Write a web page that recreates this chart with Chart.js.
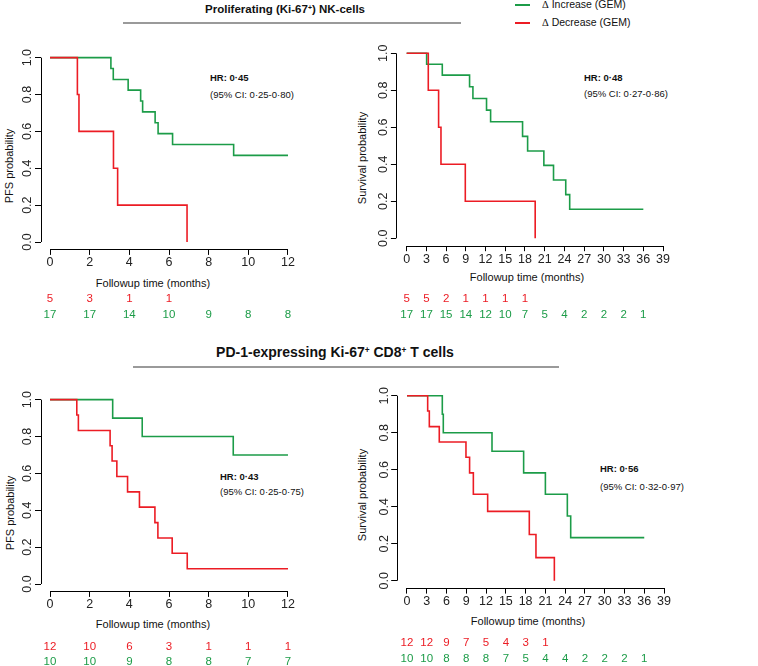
<!DOCTYPE html>
<html>
<head>
<meta charset="utf-8">
<script src="https://cdn.jsdelivr.net/npm/chart.js@4.4.1/dist/chart.umd.min.js"></script>
<style>
body { margin: 0; width: 758px; height: 666px; position: relative; overflow: hidden; background: #fff;
  font-family: "Liberation Sans", Arial, sans-serif; color: #111; }
canvas { position: absolute; }
.t { position: absolute; white-space: nowrap; line-height: 1; transform: translate(-50%, -50%); }
.l { position: absolute; white-space: nowrap; line-height: 1; transform: translate(0, -50%); }
.rot { position: absolute; white-space: nowrap; line-height: 1; font-size: 11px; transform: translate(-50%, -50%) rotate(-90deg); }
.head { font-weight: bold; }
.head sup { font-size: 0.6em; vertical-align: 0; position: relative; top: -0.45em; }
.rule { position: absolute; height: 1.5px; background: #9a9a9a; }
.hr { font-size: 9.5px; font-weight: bold; }
.ci { font-size: 9.5px; }
.xt { font-size: 11px; }
.key { position: absolute; width: 15px; height: 1.5px; }
.lg { font-size: 10.5px; }
.lg .d { font-family: "Liberation Serif", serif; }
</style>
</head>
<body>

<div class="t head" style="left:285px;top:10px;font-size:11.5px">Proliferating (Ki-67<sup>+</sup>) NK-cells</div>
<div class="rule" style="left:123px;top:22px;width:338px"></div>
<div class="t head" style="left:335px;top:352px;font-size:14px">PD-1-expressing Ki-67<sup>+</sup> CD8<sup>+</sup> T cells</div>
<div class="rule" style="left:133px;top:366px;width:426px"></div>

<div class="key" style="left:515px;top:4px;background:#1c9c48"></div>
<div class="l lg" style="left:542px;top:5px"><span class="d">Δ</span> Increase (GEM)</div>
<div class="key" style="left:515px;top:22px;background:#ec1c24"></div>
<div class="l lg" style="left:542px;top:23px"><span class="d">Δ</span> Decrease (GEM)</div>

<div class="l hr" style="left:210px;top:78px">HR: 0·45</div>
<div class="l ci" style="left:210px;top:95px">(95% CI: 0·25-0·80)</div>
<div class="l hr" style="left:584px;top:78px">HR: 0·48</div>
<div class="l ci" style="left:584px;top:94px">(95% CI: 0·27-0·86)</div>
<div class="l hr" style="left:220px;top:477px">HR: 0·43</div>
<div class="l ci" style="left:220px;top:492px">(95% CI: 0·25-0·75)</div>
<div class="l hr" style="left:600px;top:469px">HR: 0·56</div>
<div class="l ci" style="left:600px;top:487px">(95% CI: 0·32-0·97)</div>

<div class="t xt" style="left:153px;top:283px">Followup time (months)</div>
<div class="t xt" style="left:527px;top:277px">Followup time (months)</div>
<div class="t xt" style="left:153px;top:624px">Followup time (months)</div>
<div class="t xt" style="left:528px;top:621px">Followup time (months)</div>

<div class="rot" style="left:9px;top:166px">PFS probability</div>
<div class="rot" style="left:362px;top:158px">Survival probability</div>
<div class="rot" style="left:10px;top:513px">PFS probability</div>
<div class="rot" style="left:362px;top:495px">Survival probability</div>

<script>
const GREEN = '#1c9c48';
const RED = '#ec1c24';

const pfsTicks = [0, 2, 4, 6, 8, 10, 12];
const osTicks = [0, 3, 6, 9, 12, 15, 18, 21, 24, 27, 30, 33, 36, 39];
const yTicks = [0, 0.2, 0.4, 0.6, 0.8, 1];

// Proliferating NK-cells, PFS
const nkPfsIncT = [0, 3.07, 3.19, 3.94, 4.57, 4.67, 5.30, 5.45, 6.18, 9.26, 12];
const nkPfsIncS = [1, 0.941, 0.882, 0.824, 0.765, 0.706, 0.647, 0.588, 0.529, 0.47, 0.47];
const nkPfsDecT = [0, 1.38, 1.46, 3.2, 3.41, 6.91];
const nkPfsDecS = [1, 0.8, 0.6, 0.4, 0.2, 0];
const nkPfsRiskDec = [5, 3, 1, 1];
const nkPfsRiskInc = [17, 17, 14, 10, 9, 8, 8];

// Proliferating NK-cells, OS
const nkOsIncT = [0, 3.04, 5.42, 9.57, 10.08, 12.15, 12.77, 17.63, 18.4, 20.87, 22.34, 24.2, 24.8, 36];
const nkOsIncS = [1, 0.941, 0.882, 0.819, 0.756, 0.693, 0.63, 0.551, 0.472, 0.394, 0.315, 0.236, 0.157, 0.157];
const nkOsDecT = [0, 3.29, 4.86, 5.22, 8.92, 19.55];
const nkOsDecS = [1, 0.8, 0.6, 0.4, 0.2, 0];
const nkOsRiskDec = [5, 5, 2, 1, 1, 1, 1];
const nkOsRiskInc = [17, 17, 15, 14, 12, 10, 7, 5, 4, 2, 2, 2, 1];

// PD-1+ Ki-67+ CD8+ T cells, PFS
const cdPfsIncT = [0, 3.16, 4.65, 9.24, 12];
const cdPfsIncS = [1, 0.9, 0.8, 0.7, 0.7];
const cdPfsDecT = [0, 1.35, 1.43, 3.03, 3.13, 3.37, 3.91, 4.51, 5.29, 5.44, 6.16, 6.92, 12];
const cdPfsDecS = [1, 0.917, 0.833, 0.75, 0.667, 0.583, 0.5, 0.417, 0.333, 0.25, 0.167, 0.083, 0.083];
const cdPfsRiskDec = [12, 10, 6, 3, 1, 1, 1];
const cdPfsRiskInc = [10, 10, 9, 8, 8, 7, 7];

// PD-1+ Ki-67+ CD8+ T cells, OS
const cdOsIncT = [0, 5.36, 5.51, 12.9, 17.7, 21.0, 24.33, 24.84, 36];
const cdOsIncS = [1, 0.9, 0.8, 0.7, 0.583, 0.467, 0.35, 0.233, 0.233];
const cdOsDecT = [0, 3.14, 3.39, 4.9, 8.95, 9.5, 10.07, 12.24, 18.56, 19.57, 22.36];
const cdOsDecS = [1, 0.917, 0.833, 0.75, 0.667, 0.583, 0.467, 0.375, 0.25, 0.125, 0];
const cdOsRiskDec = [12, 12, 9, 7, 5, 4, 3, 1];
const cdOsRiskInc = [10, 10, 8, 8, 8, 7, 5, 4, 4, 2, 2, 2, 1];

// page geometry: canvas box [x, y, w, h], plot area [left, right, top, bottom]
const panels = [
  { box: [0, 40, 340, 290], area: [40.5, 297.5, 50.3, 249.4], xr: [-0.48, 12.48], xt: pfsTicks,
    inc: [nkPfsIncT, nkPfsIncS], dec: [nkPfsDecT, nkPfsDecS], risk: [nkPfsRiskDec, nkPfsRiskInc], riskY: [299.3, 314.7] },
  { box: [355, 40, 345, 290], area: [396.4, 673.3, 45.9, 245.7], xr: [-1.56, 40.56], xt: osTicks,
    inc: [nkOsIncT, nkOsIncS], dec: [nkOsDecT, nkOsDecS], risk: [nkOsRiskDec, nkOsRiskInc], riskY: [299.3, 314.7] },
  { box: [0, 375, 340, 291], area: [40.5, 297.5, 392.3, 591.4], xr: [-0.48, 12.48], xt: pfsTicks,
    inc: [cdPfsIncT, cdPfsIncS], dec: [cdPfsDecT, cdPfsDecS], risk: [cdPfsRiskDec, cdPfsRiskInc], riskY: [646.7, 662.3] },
  { box: [355, 375, 345, 291], area: [396.7, 674.3, 388.3, 588.1], xr: [-1.56, 40.56], xt: osTicks,
    inc: [cdOsIncT, cdOsIncS], dec: [cdOsDecT, cdOsDecS], risk: [cdOsRiskDec, cdOsRiskInc], riskY: [643.3, 659] }
];

const toPts = (t, s) => t.map((v, i) => ({ x: v, y: s[i] }));

function makeChart(p) {
  const [bx, by, bw, bh] = p.box;
  const [al, ar, at, ab] = p.area;
  const cv = document.createElement('canvas');
  cv.width = bw; cv.height = bh;
  cv.style.left = bx + 'px'; cv.style.top = by + 'px';
  document.body.appendChild(cv);

  // R-style axis lines, rotated y labels and numbers-at-risk rows
  const kmExtras = {
    id: 'kmExtras',
    afterDraw(chart) {
      const { ctx, chartArea: a, scales: { x, y } } = chart;
      ctx.save();
      ctx.strokeStyle = '#000';
      ctx.lineWidth = 1;
      ctx.beginPath();
      const yb = Math.round(a.bottom) + 0.5, xl = Math.round(a.left) + 0.5;
      ctx.moveTo(x.getPixelForValue(p.xt[0]), yb);
      ctx.lineTo(x.getPixelForValue(p.xt[p.xt.length - 1]), yb);
      ctx.moveTo(xl, y.getPixelForValue(0));
      ctx.lineTo(xl, y.getPixelForValue(1));
      ctx.stroke();

      ctx.fillStyle = '#222';
      ctx.font = '12.5px "Liberation Sans", Arial';
      ctx.textAlign = 'center';
      ctx.textBaseline = 'middle';
      yTicks.forEach(v => {
        ctx.save();
        ctx.translate(a.left - 12.5, y.getPixelForValue(v));
        ctx.rotate(-Math.PI / 2);
        ctx.fillText(v.toFixed(1), 0, 0);
        ctx.restore();
      });

      ctx.font = '11.5px "Liberation Sans", Arial';
      p.risk.forEach((row, k) => {
        ctx.fillStyle = k ? GREEN : RED;
        row.forEach((n, i) => ctx.fillText(String(n), x.getPixelForValue(p.xt[i]), p.riskY[k] - by));
      });
      ctx.restore();
    }
  };

  const line = (pts, color) => ({
    data: pts, borderColor: color, borderWidth: 1.6, stepped: true,
    pointRadius: 0, fill: false, tension: 0
  });

  new Chart(cv, {
    type: 'line',
    data: { datasets: [line(toPts(p.dec[0], p.dec[1]), RED), line(toPts(p.inc[0], p.inc[1]), GREEN)] },
    options: {
      responsive: false,
      animation: false,
      layout: { padding: { left: 0, top: at - by, right: bx + bw - ar, bottom: 0 } },
      plugins: { legend: { display: false }, tooltip: { enabled: false } },
      scales: {
        x: {
          type: 'linear', min: p.xr[0], max: p.xr[1],
          afterBuildTicks: s => { s.ticks = p.xt.map(v => ({ value: v })); },
          afterFit: s => { s.height = by + bh - ab; },
          border: { display: false },
          grid: { drawOnChartArea: false, color: '#000', tickLength: 5.5 },
          ticks: { autoSkip: false, maxRotation: 0, minRotation: 0, padding: 0.5, color: '#222',
            font: { family: '"Liberation Sans", Arial', size: 12.5 } }
        },
        y: {
          type: 'linear', min: -0.04, max: 1.04,
          afterBuildTicks: s => { s.ticks = yTicks.map(v => ({ value: v })); },
          afterFit: s => { s.width = al - bx; },
          border: { display: false },
          grid: { drawOnChartArea: false, color: '#000', tickLength: 5.5 },
          ticks: { display: false }
        }
      }
    },
    plugins: [kmExtras]
  });
}

panels.forEach(makeChart);
</script>
</body>
</html>
